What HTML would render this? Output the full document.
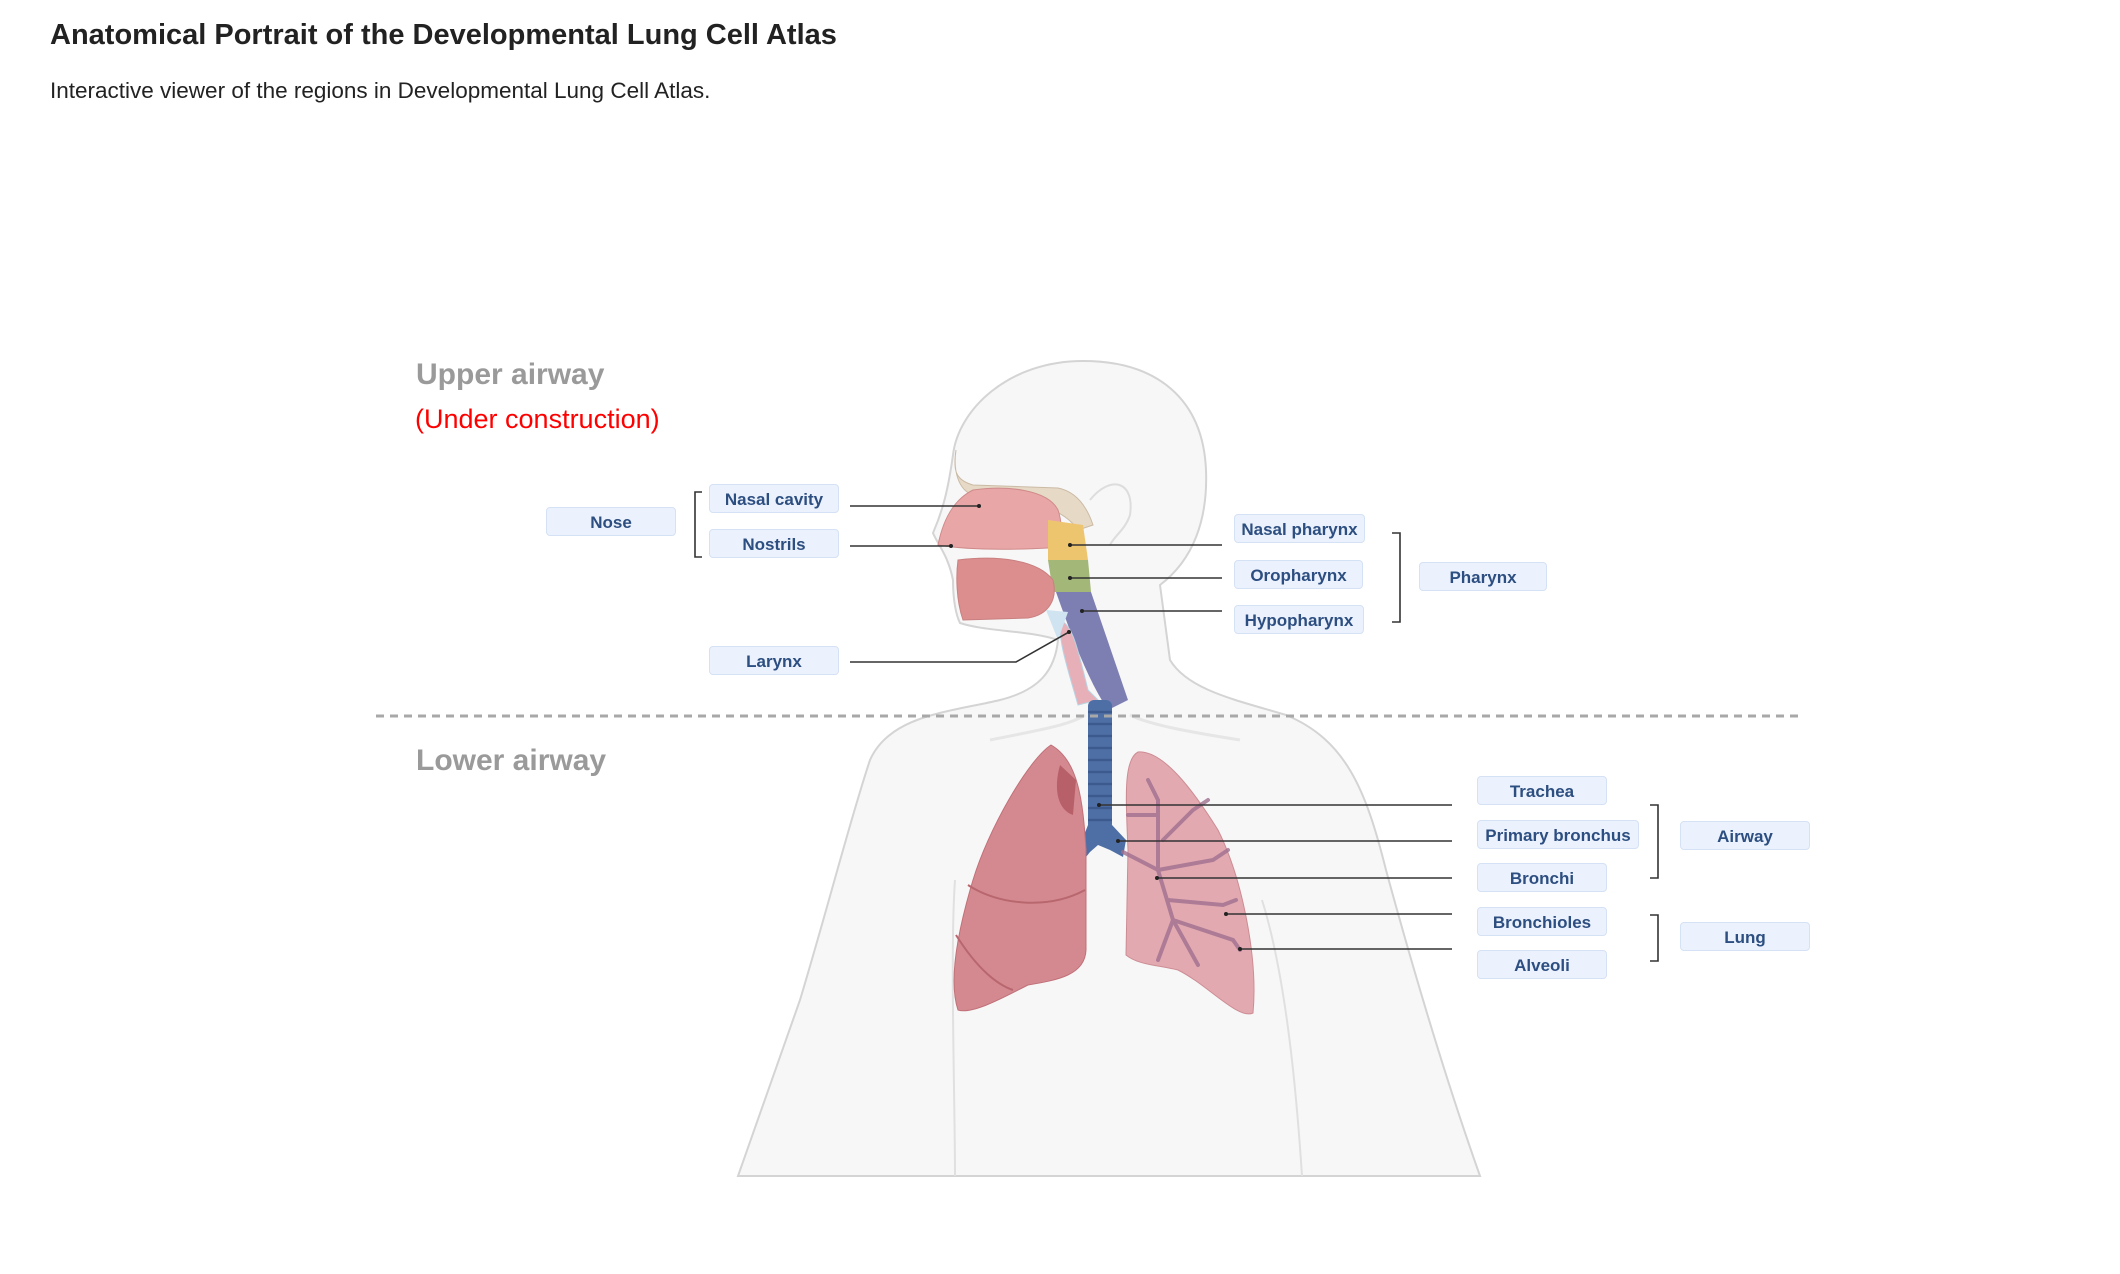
<!DOCTYPE html>
<html><head><meta charset="utf-8">
<style>
html,body{margin:0;padding:0;background:#fff;}
body{width:2120px;height:1274px;position:relative;overflow:hidden;font-family:"Liberation Sans",Arial,sans-serif;}
h1{position:absolute;left:50px;top:19px;margin:0;font-size:29px;font-weight:bold;color:#222;white-space:nowrap;}
.sub{position:absolute;left:50px;top:78px;font-size:22.5px;color:#222;white-space:nowrap;}
.box{position:absolute;height:29px;line-height:29px;background:#ebf2fd;border:1px solid #d5e1f4;border-radius:4px;text-align:center;font-weight:bold;font-size:17px;color:#2d4e80;white-space:nowrap;box-sizing:border-box;}
.t{position:absolute;white-space:nowrap;}
</style></head><body>
<h1>Anatomical Portrait of the Developmental Lung Cell Atlas</h1>
<div class="sub">Interactive viewer of the regions in Developmental Lung Cell Atlas.</div>
<div class="t" style="left:416px;top:358px;font-size:30px;font-weight:bold;color:#9a9a9a;">Upper airway</div>
<div class="t" style="left:415px;top:404px;font-size:27px;color:#ff0000;">(Under construction)</div>
<div class="t" style="left:416px;top:744px;font-size:30px;font-weight:bold;color:#9a9a9a;">Lower airway</div>

<svg width="2120" height="1274" style="position:absolute;left:0;top:0" xmlns="http://www.w3.org/2000/svg">
<path d="M1058,640 C1055,670 1040,690 1000,700 C950,712 890,715 870,760 C850,820 830,900 800,1000 L738,1176 L1480,1176 C1446,1080 1416,980 1386,870 C1366,790 1346,740 1286,715 C1236,700 1188,690 1170,660 L1160,585 C1193,560 1208,520 1206,470 C1203,400 1158,361 1083,361 C1008,361 958,410 953,455 C948,490 943,510 933,533 C938,545 948,555 953,580 C953,600 956,615 960,623 C988,632 1028,630 1058,640 Z" fill="#f7f7f7" stroke="#d4d4d4" stroke-width="2"/>
<path d="M955,880 C950,950 955,1100 955,1176" fill="none" stroke="#e0e0e0" stroke-width="2"/>
<path d="M1262,900 C1287,980 1297,1100 1302,1176" fill="none" stroke="#e0e0e0" stroke-width="2"/>
<path d="M990,740 C1040,730 1070,725 1085,715 M1130,715 C1150,725 1190,732 1240,740" fill="none" stroke="#e6e6e6" stroke-width="3"/>
<path d="M1090,500 C1110,475 1135,480 1130,515 C1125,530 1115,535 1110,545" fill="none" stroke="#ddd" stroke-width="2"/>
<path d="M956,450 C953,470 955,480 973,485 L1058,488 C1078,492 1088,510 1093,525 L1078,530 C1058,500 998,495 973,495 C958,490 953,470 956,450 Z" fill="#e6d9c6" stroke="#cbbba5"/>
<path d="M973,490 C1008,485 1048,490 1058,510 C1063,525 1063,540 1048,548 C1008,550 968,550 938,545 C943,520 953,500 973,490 Z" fill="#e9a6a6" stroke="#cf8a8a"/>
<path d="M1048,520 L1083,525 L1088,560 L1048,560 Z" fill="#eec56f"/>
<path d="M1048,560 L1088,560 L1091,592 L1053,592 Z" fill="#a3b778"/>
<path d="M1056,592 L1091,592 L1128,700 L1108,710 C1088,680 1073,640 1056,592 Z" fill="#7d7fb3"/>
<path d="M958,560 C998,555 1038,560 1053,580 C1058,600 1048,615 1028,618 L963,620 C956,600 956,575 958,560 Z" fill="#dc8d8d" stroke="#c98080"/>
<path d="M1060,620 C1073,625 1078,650 1088,690 L1098,700 L1078,705 C1068,670 1058,640 1060,620 Z" fill="#e7b0b8" stroke="#b8d3e3"/>
<path d="M1046,610 L1068,612 L1058,640 Z" fill="#cfe4f0"/>
<rect x="1088" y="700" width="24" height="130" rx="6" fill="#4e6fa6"/>
<g stroke="#3c5a8e" stroke-width="2.5">
<line x1="1088" y1="712" x2="1112" y2="712"/><line x1="1088" y1="724" x2="1112" y2="724"/><line x1="1088" y1="736" x2="1112" y2="736"/><line x1="1088" y1="748" x2="1112" y2="748"/><line x1="1088" y1="760" x2="1112" y2="760"/><line x1="1088" y1="772" x2="1112" y2="772"/><line x1="1088" y1="784" x2="1112" y2="784"/><line x1="1088" y1="796" x2="1112" y2="796"/><line x1="1088" y1="808" x2="1112" y2="808"/><line x1="1088" y1="820" x2="1112" y2="820"/>
</g>
<path d="M1088,825 L1112,825 L1126,840 L1123,857 L1110,850 L1098,845 L1090,852 L1086,857 L1081,843 Z" fill="#4e6fa6"/>
<path d="M1051,745 C1028,760 988,830 973,880 C958,930 948,980 958,1010 C973,1015 1008,995 1028,985 C1058,980 1085,975 1086,950 L1086,850 C1083,800 1078,760 1051,745 Z" fill="#d48990" stroke="#c07078"/>
<path d="M1060,765 C1053,790 1058,810 1073,815 L1076,780 Z" fill="#b8606a"/>
<path d="M968,885 C998,905 1048,910 1085,890 M956,935 C978,970 998,985 1013,990" fill="none" stroke="#b9676f" stroke-width="2"/>
<path d="M1138,752 C1123,760 1126,800 1128,850 L1126,955 C1138,965 1158,965 1178,970 C1208,985 1238,1020 1253,1013 C1258,960 1243,880 1218,830 C1193,790 1163,750 1138,752 Z" fill="#e2aab0" stroke="#cd8c94"/>
<g fill="none" stroke="#a07090" stroke-width="4" stroke-linecap="round" opacity="0.8">
<path d="M1123,852 L1158,870 L1173,920 L1198,965"/>
<path d="M1158,870 L1158,800 L1148,780"/>
<path d="M1163,840 L1193,810 L1208,800"/>
<path d="M1158,870 L1213,860 L1228,850"/>
<path d="M1168,900 L1223,905 L1236,900"/>
<path d="M1173,920 L1233,940 L1240,950"/>
<path d="M1173,920 L1158,960"/>
<path d="M1158,815 L1128,815"/>
</g>
<line x1="376" y1="716" x2="1803" y2="716" stroke="#a8a8a8" stroke-width="3" stroke-dasharray="8,6"/>
<g stroke="#333" stroke-width="1.6" fill="none">
<path d="M850,506 L979,506"/>
<path d="M850,546 L951,546"/>
<path d="M850,662 L1016,662 L1069,632"/>
<path d="M1222,545 L1070,545"/>
<path d="M1222,578 L1070,578"/>
<path d="M1222,611 L1082,611"/>
<path d="M1452,805 L1099,805"/>
<path d="M1452,841 L1118,841"/>
<path d="M1452,878 L1157,878"/>
<path d="M1452,914 L1226,914"/>
<path d="M1452,949 L1240,949"/>
<path d="M702,492 L695,492 L695,557 L702,557"/>
<path d="M1392,533 L1400,533 L1400,622 L1392,622"/>
<path d="M1650,805 L1658,805 L1658,878 L1650,878"/>
<path d="M1650,915 L1658,915 L1658,961 L1650,961"/>
</g>
<g fill="#222">
<circle cx="979" cy="506" r="2"/><circle cx="951" cy="546" r="2"/><circle cx="1069" cy="632" r="2"/>
<circle cx="1070" cy="545" r="2"/><circle cx="1070" cy="578" r="2"/><circle cx="1082" cy="611" r="2"/>
<circle cx="1099" cy="805" r="2"/><circle cx="1118" cy="841" r="2"/><circle cx="1157" cy="878" r="2"/><circle cx="1226" cy="914" r="2"/><circle cx="1240" cy="949" r="2"/>
</g>
</svg>

<div class="box" style="left:546px;top:507px;width:130px;">Nose</div>
<div class="box" style="left:709px;top:484px;width:130px;">Nasal cavity</div>
<div class="box" style="left:709px;top:529px;width:130px;">Nostrils</div>
<div class="box" style="left:709px;top:646px;width:130px;">Larynx</div>
<div class="box" style="left:1234px;top:514px;width:131px;">Nasal pharynx</div>
<div class="box" style="left:1234px;top:560px;width:129px;">Oropharynx</div>
<div class="box" style="left:1234px;top:605px;width:130px;">Hypopharynx</div>
<div class="box" style="left:1419px;top:562px;width:128px;">Pharynx</div>
<div class="box" style="left:1477px;top:776px;width:130px;">Trachea</div>
<div class="box" style="left:1477px;top:820px;width:162px;">Primary bronchus</div>
<div class="box" style="left:1477px;top:863px;width:130px;">Bronchi</div>
<div class="box" style="left:1477px;top:907px;width:130px;">Bronchioles</div>
<div class="box" style="left:1477px;top:950px;width:130px;">Alveoli</div>
<div class="box" style="left:1680px;top:821px;width:130px;">Airway</div>
<div class="box" style="left:1680px;top:922px;width:130px;">Lung</div>
</body></html>
